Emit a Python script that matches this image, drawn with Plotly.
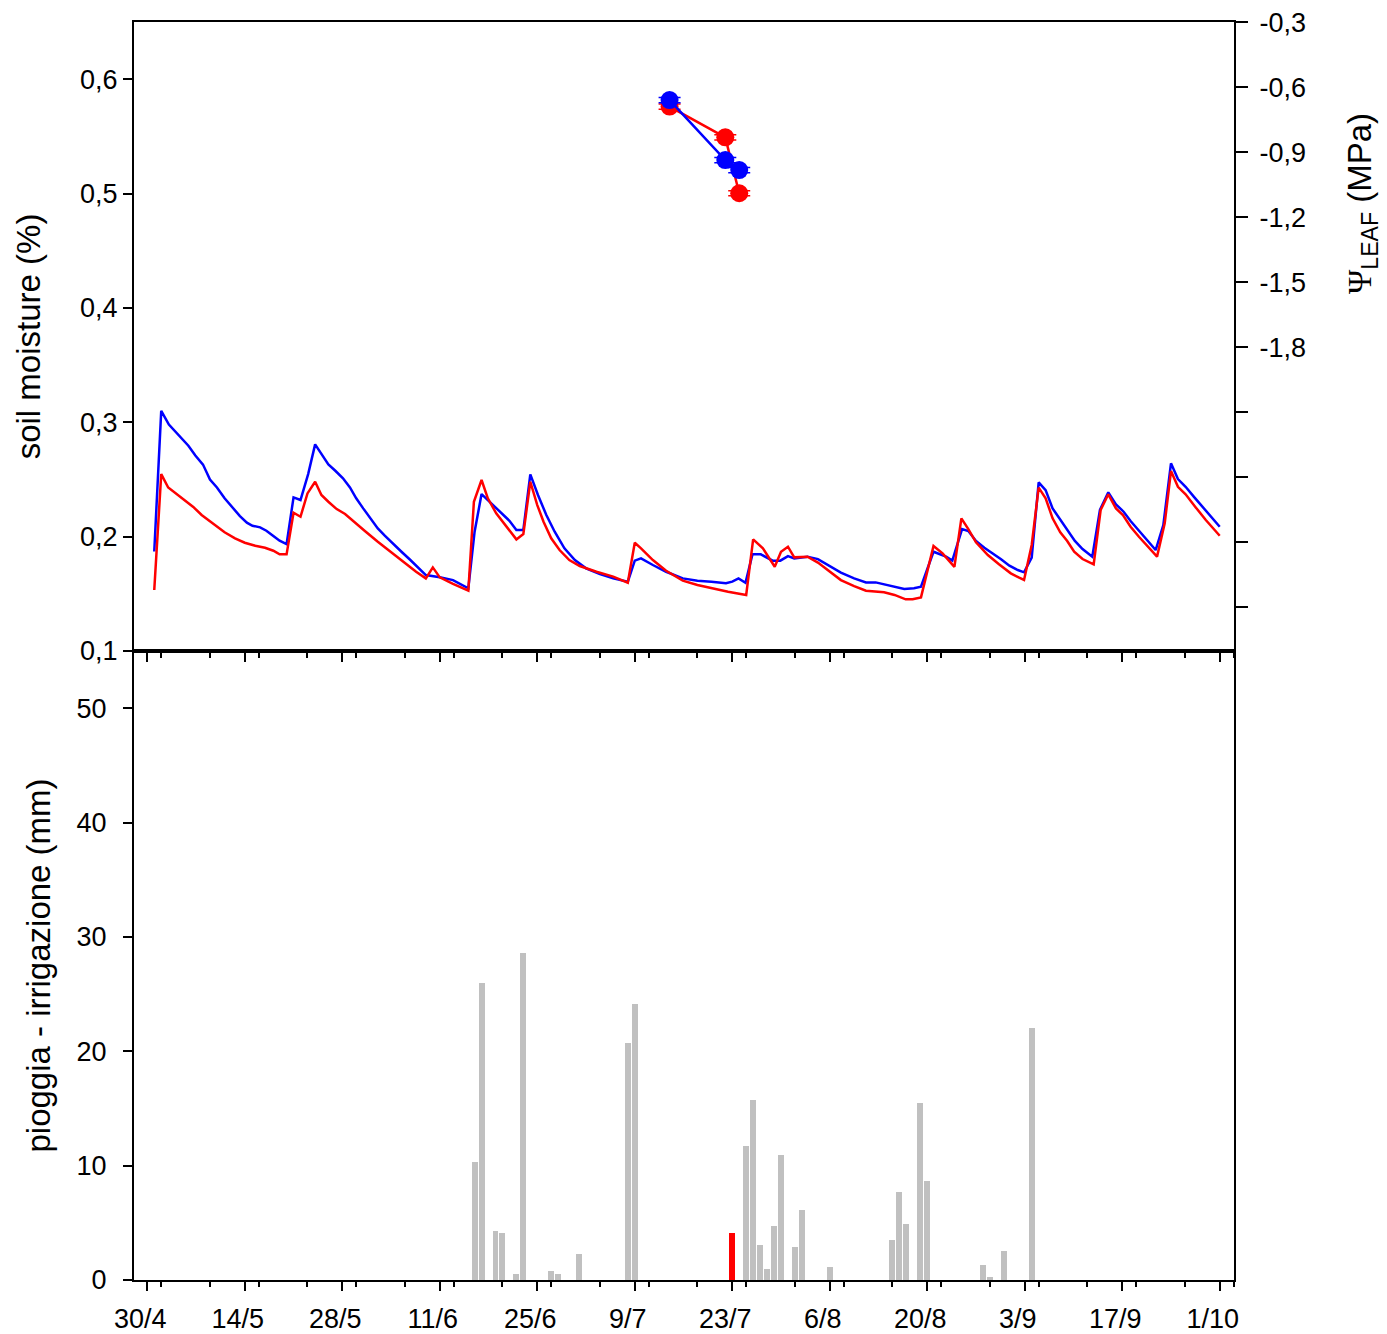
import plotly.graph_objects as go

# ---- x axis: days since 30/4 ----
major_days = [0, 14, 28, 42, 56, 70, 84, 98, 112, 126, 140, 154]
major_labels = ["30/4", "14/5", "28/5", "11/6", "25/6", "9/7", "23/7", "6/8", "20/8", "3/9", "17/9", "1/10"]

# ---- soil moisture, blue series ----
blue_days = [1.0, 2.0, 3.1, 4.0, 4.9, 5.9, 6.9, 8.0, 9.0, 10.0, 11.1, 12.2, 13.3, 14.3, 15.1, 16.2, 17.1, 18.1, 19.0, 20.0,
             21.0, 22.0, 23.1, 24.1, 25.0, 26.0, 27.0, 28.1, 29.1, 30.0, 31.0, 32.2, 33.1, 34.1, 35.3, 36.5, 37.7, 38.9,
             40.0, 42.0, 43.9, 46.1, 47.0, 48.0, 48.9, 49.9, 51.1, 52.0, 53.0, 54.0, 55.0, 56.1, 57.3, 58.5, 59.9, 61.4,
             63.0, 65.0, 66.9, 69.0, 70.0, 70.9, 72.6, 74.5, 76.9, 79.0, 81.0, 83.1, 84.0, 84.9, 85.9, 86.9, 88.1, 89.8,
             90.9, 92.0, 92.9, 94.8, 96.3, 97.7, 99.6, 101.5, 103.2, 104.6, 106.8, 108.7, 110.1, 111.1, 112.9, 114.7,
             115.6, 117.0, 117.9, 119.0, 120.2, 121.4, 122.6, 123.8, 125.0, 125.9, 127.0, 128.0, 129.0, 130.0, 131.1,
             132.1, 133.2, 134.3, 135.7, 136.8, 138.0, 139.1, 140.2, 141.2, 142.4, 143.6, 144.8, 145.9, 147.0, 148.0,
             149.1, 150.3, 151.5, 152.7, 154.0]
blue_sm = [0.187, 0.310, 0.298, 0.292, 0.286, 0.2795, 0.271, 0.263, 0.250, 0.243, 0.2335, 0.2256, 0.218, 0.2122, 0.2095,
           0.2081, 0.2052, 0.2005, 0.1964, 0.1935, 0.2343, 0.232, 0.2547, 0.2807, 0.2722, 0.2632, 0.2576, 0.251, 0.243,
           0.2335, 0.2247, 0.2145, 0.2072, 0.2008, 0.1935, 0.1868, 0.180, 0.1731, 0.1664, 0.1644, 0.162, 0.1548, 0.2043,
           0.2372, 0.232, 0.226, 0.2195, 0.2139, 0.2058, 0.2058, 0.2545, 0.2364, 0.2189, 0.2043, 0.1898, 0.1795, 0.1723,
           0.1673, 0.1635, 0.1606, 0.179, 0.181, 0.1752, 0.1693, 0.1635, 0.1615, 0.1606, 0.1592, 0.1606, 0.1635, 0.1597,
           0.1845, 0.1845, 0.179, 0.179, 0.183, 0.181, 0.1825, 0.1804, 0.1752, 0.1685, 0.1635, 0.160, 0.160, 0.1571,
           0.1542, 0.1548, 0.1562, 0.1868, 0.1825, 0.179, 0.2066, 0.2049, 0.1962, 0.1903, 0.1854, 0.1802, 0.1746, 0.1708,
           0.1688, 0.1816, 0.2474, 0.2407, 0.2247, 0.2145, 0.2058, 0.1962, 0.1892, 0.1825, 0.2233, 0.2387, 0.2282, 0.2218,
           0.2136, 0.2049, 0.1962, 0.1883, 0.2101, 0.2641, 0.2503, 0.2436, 0.2348, 0.226, 0.2173, 0.2086]

# ---- soil moisture, red series ----
red_days = [1.0, 2.0, 3.0, 4.2, 5.4, 6.6, 7.8, 9.2, 11.1, 12.6, 14.0, 15.5, 16.9, 18.1, 19.0, 20.0, 21.0, 22.0, 23.0,
            24.1, 25.0, 26.0, 27.2, 28.4, 29.6, 31.2, 33.1, 35.1, 37.0, 38.6, 40.0, 41.0, 42.0, 43.9, 46.1, 46.9, 48.0,
            48.9, 50.1, 51.6, 53.0, 54.0, 55.0, 56.0, 56.9, 58.0, 59.2, 60.6, 62.1, 64.5, 66.9, 69.0, 70.0, 70.9, 72.6,
            74.5, 76.9, 79.0, 81.0, 83.4, 86.0, 87.0, 88.4, 90.1, 91.0, 92.0, 92.9, 94.8, 96.3, 97.7, 99.6, 101.5, 103.2,
            105.8, 107.3, 108.9, 109.9, 111.1, 112.9, 114.2, 115.9, 116.9, 117.9, 119.0, 120.7, 122.3, 124.0, 125.2,
            125.9, 127.0, 128.0, 129.0, 130.0, 131.1, 132.1, 133.1, 134.3, 135.9, 136.9, 138.0, 139.1, 140.1, 141.2,
            142.4, 143.6, 145.0, 146.1, 147.0, 148.0, 149.1, 150.5, 152.0, 154.0]
red_sm = [0.1533, 0.2547, 0.243, 0.2372, 0.232, 0.226, 0.2189, 0.2122, 0.2038, 0.1985, 0.1947, 0.192, 0.1903, 0.1877,
          0.1845, 0.1845, 0.2209, 0.2174, 0.2378, 0.248, 0.2364, 0.2305, 0.2241, 0.2198, 0.2139, 0.2052, 0.1955, 0.1859,
          0.1772, 0.1693, 0.1635, 0.1731, 0.1644, 0.1586, 0.1527, 0.2305, 0.2495, 0.2335, 0.2204, 0.2087, 0.1976, 0.2023,
          0.248, 0.2276, 0.213, 0.1985, 0.1883, 0.1795, 0.1743, 0.1693, 0.165, 0.1597, 0.1947, 0.1898, 0.1795, 0.1702,
          0.1615, 0.1577, 0.1548, 0.1518, 0.149, 0.1976, 0.1898, 0.1737, 0.1868, 0.1912, 0.1819, 0.1825, 0.1773, 0.1708,
          0.162, 0.1568, 0.1527, 0.1513, 0.149, 0.1452, 0.1452, 0.1469, 0.1918, 0.1854, 0.1735, 0.216, 0.2066, 0.195,
          0.1839, 0.1758, 0.1679, 0.1641, 0.1621, 0.1927, 0.2428, 0.2335, 0.216, 0.2037, 0.1962, 0.1868, 0.1804, 0.1758,
          0.2233, 0.237, 0.2247, 0.2189, 0.2087, 0.1999, 0.192, 0.1825, 0.2116, 0.2573, 0.2436, 0.237, 0.226, 0.2145,
          0.2008]

# ---- leaf water potential (MPa) ----
psi_days = [75, 83, 85]
psi_blue = [-0.66, -0.937, -0.983]
psi_red = [-0.69, -0.832, -1.09]
psi_err = [0.012, 0.012, 0.012]

# ---- rain / irrigation (mm) ----
rain_days = [47, 48, 50, 51, 53, 54, 58, 59, 62, 69, 70, 86, 87, 88, 89, 90, 91, 93, 94, 98, 107, 108, 109, 111, 112,
             120, 121, 123, 127]
rain_mm = [10.3, 26.0, 4.3, 4.1, 0.5, 28.6, 0.8, 0.5, 2.3, 20.7, 24.1, 11.7, 15.7, 3.1, 1.0, 4.7, 10.9, 2.9, 6.1, 1.1,
           3.5, 7.7, 4.9, 15.5, 8.7, 1.3, 0.3, 2.5, 22.0]
irrig_days = [84]
irrig_mm = [4.1]

# ---- y tick labels ----
sm_ticks = [0.1, 0.2, 0.3, 0.4, 0.5, 0.6]
sm_labels = ["0,1", "0,2", "0,3", "0,4", "0,5", "0,6"]
psi_ticks = [-0.3, -0.6, -0.9, -1.2, -1.5, -1.8]
psi_labels = ["-0,3", "-0,6", "-0,9", "-1,2", "-1,5", "-1,8"]
psi_unlabeled = [-2.1, -2.4, -2.7, -3.0]
rain_ticks = [0, 10, 20, 30, 40, 50]
rain_labels = ["0", "10", "20", "30", "40", "50"]

FONT = "Liberation Sans, Arial, sans-serif"
TICKF = dict(family=FONT, size=27, color="black")
TITLEF = dict(family=FONT, size=33, color="black")

fig = go.Figure()

fig.add_trace(go.Bar(x=rain_days, y=rain_mm, width=0.85, marker=dict(color="#c0c0c0", line=dict(width=0)),
                     xaxis="x", yaxis="y", showlegend=False))
fig.add_trace(go.Bar(x=irrig_days, y=irrig_mm, width=0.85, marker=dict(color="#ff0000", line=dict(width=0)),
                     xaxis="x", yaxis="y", showlegend=False))

fig.add_trace(go.Scatter(x=blue_days, y=blue_sm, mode="lines", line=dict(color="#0000ff", width=2.5),
                         xaxis="x2", yaxis="y2", showlegend=False))
fig.add_trace(go.Scatter(x=red_days, y=red_sm, mode="lines", line=dict(color="#ff0000", width=2.5),
                         xaxis="x2", yaxis="y2", showlegend=False))

fig.add_trace(go.Scatter(x=psi_days, y=psi_red, mode="lines+markers", line=dict(color="#ff0000", width=2.5),
                         marker=dict(color="#ff0000", size=18),
                         error_y=dict(type="data", array=psi_err, color="#ff0000", width=11, thickness=1.5),
                         xaxis="x2", yaxis="y3", showlegend=False))
fig.add_trace(go.Scatter(x=psi_days, y=psi_blue, mode="lines+markers", line=dict(color="#0000ff", width=2.5),
                         marker=dict(color="#0000ff", size=18),
                         error_y=dict(type="data", array=psi_err, color="#0000ff", width=11, thickness=1.5),
                         xaxis="x2", yaxis="y3", showlegend=False))

axis_common = dict(showline=True, linecolor="black", linewidth=2, ticks="outside", tickcolor="black", tickwidth=2,
                   showgrid=False, zeroline=False, tickfont=TICKF, automargin=False)
minor_x = dict(ticks="outside", ticklen=5, tickwidth=2, tickcolor="black", tick0=2, dtick=7, showgrid=False)

# page body has an 8px margin: compensate so the plot area sits at x 134-1234, y 22-1280
fig.update_layout(
    width=1379, height=1326,
    margin=dict(l=126, r=153, t=14, b=54),
    plot_bgcolor="white", paper_bgcolor="white",
    bargap=0,
    font=dict(family=FONT, color="black"),
    xaxis=dict(axis_common, domain=[0, 1], anchor="y", range=[-1.91, 156.05], tickmode="array",
               tickvals=major_days, ticktext=major_labels, ticklen=9, mirror=True, minor=minor_x,
               ticklabelstandoff=5, ticklabelshift=-7),
    xaxis2=dict(axis_common, domain=[0, 1], anchor="y2", matches="x", range=[-1.91, 156.05], tickmode="array",
                tickvals=major_days, ticktext=major_labels, showticklabels=False, ticklen=9, mirror=True,
                minor=minor_x),
    yaxis=dict(axis_common, domain=[0, 0.5], anchor="x", range=[0, 55], tickmode="array", tickvals=rain_ticks,
               ticktext=rain_labels, ticklen=9, mirror=True, ticklabelstandoff=11,
               title=dict(text="pioggia - irrigazione (mm)", font=TITLEF, standoff=16)),
    yaxis2=dict(axis_common, domain=[0.5, 1], anchor="x2", range=[0.1, 0.65], tickmode="array", tickvals=sm_ticks,
                ticktext=sm_labels, ticklen=9,
                title=dict(text="soil moisture (%)", font=TITLEF, standoff=30)),
    yaxis3=dict(axis_common, overlaying="y2", side="right", anchor="x2", range=[-3.203, -0.2995], tickmode="array",
                tickvals=psi_ticks, ticktext=psi_labels, ticklen=12, ticklabelstandoff=6,
                ticklabeloverflow="allow",
                minor=dict(tickmode="array", tickvals=psi_unlabeled, ticks="outside", ticklen=12, tickwidth=2,
                           tickcolor="black", showgrid=False)),
    annotations=[dict(text="<span style='font-family:Liberation Serif'>Ψ</span><sub>LEAF</sub> (MPa)",
                      textangle=-90, xref="paper", yref="paper", x=1.1164, y=0.8553,
                      xanchor="center", yanchor="middle", showarrow=False, font=TITLEF)],
)

fig.write_html("out.html")
